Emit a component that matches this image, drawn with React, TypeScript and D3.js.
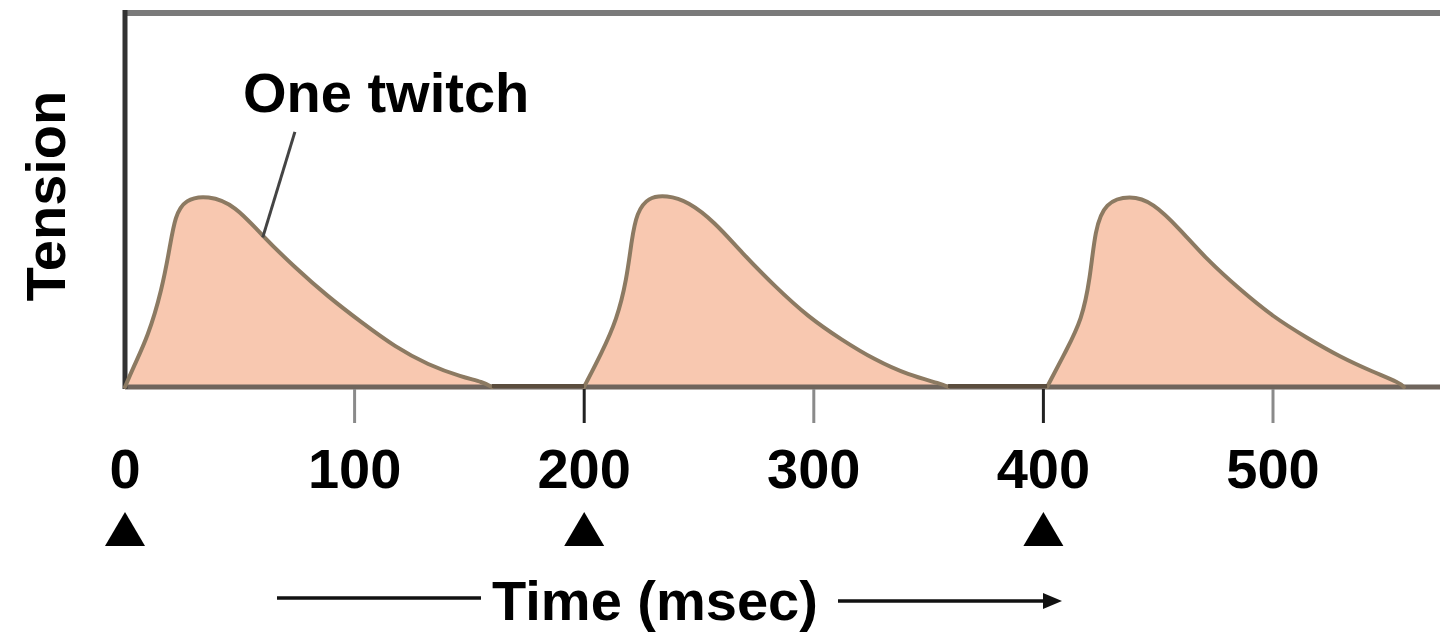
import React from "react";
import * as d3 from "d3";

// ---- data ----
const stimulusTimes = [0, 200, 400]; // ms, black triangles
const tickValues = [0, 100, 200, 300, 400, 500];

const twitch1T = [0, 3.5, 10.0, 16.1, 19.6, 21.8, 26.1, 36.1, 47.9, 59.7, 74.0, 88.4, 103.2, 117.6, 132.0, 146.8, 155.9, 159.8];
const twitch1V = [0, 0.1, 0.262, 0.508, 0.734, 0.89, 0.979, 1.0, 0.948, 0.79, 0.623, 0.471, 0.335, 0.209, 0.115, 0.052, 0.026, 0];

const twitch2T = [199.9, 207.6, 214.2, 218.5, 220.7, 222.9, 227.8, 235.9, 245.2, 256.9, 268.5, 283.1, 297.5, 312.1, 326.6, 341.0, 355.7, 358.5];
const twitch2V = [0, 0.178, 0.351, 0.56, 0.77, 0.91, 0.99, 1.0, 0.968, 0.859, 0.702, 0.524, 0.366, 0.246, 0.141, 0.063, 0.016, 0];

const twitch3T = [401.6, 410.1, 416.7, 420.3, 422.5, 426.8, 437.7, 447.7, 459.5, 471.1, 485.6, 500.0, 514.7, 529.2, 543.6, 555.3, 557.0];
const twitch3V = [0, 0.194, 0.351, 0.56, 0.822, 0.963, 1.0, 0.963, 0.822, 0.665, 0.508, 0.366, 0.257, 0.157, 0.079, 0.021, 0];

const annotationLabel = "One twitch";
const annotationPoint = { t: 60, v: 0.78 };
const annotationLineTop = { t: 74, v: 1.33 };
const annotationText = { t: 51.4, v: 1.434 };

const yTitle = "Tension";
const xTitle = "Time (msec)";

// ---- layout ----
const W = 1440;
const H = 632;
const FONT = "'Liberation Sans', Arial, sans-serif";

type P = { t: number; v: number };
const zip = (ts: number[], vs: number[]): P[] => ts.map((t, i) => ({ t, v: vs[i] }));

export default function App() {
  const x = d3.scaleLinear().domain([0, 500]).range([125, 1273]);
  const y = d3.scaleLinear().domain([0, 1.95]).range([387, 13]);

  const twitches = [zip(twitch1T, twitch1V), zip(twitch2T, twitch2V), zip(twitch3T, twitch3V)];

  const curve = d3.curveBasis;
  const area = d3
    .area<P>()
    .x((d) => x(d.t))
    .y0(y(0))
    .y1((d) => y(d.v))
    .curve(curve);
  const line = d3
    .line<P>()
    .x((d) => x(d.t))
    .y((d) => y(d.v))
    .curve(curve);

  const x0 = x(0);
  const yBase = y(0);
  const yTop = y(1.95);

  // flat baseline stretches between consecutive twitches
  const gaps = twitches.slice(0, -1).map((tw, i) => [tw[tw.length - 1].t, twitches[i + 1][0].t]);

  return (
    <svg
      width={W}
      height={H}
      viewBox={`0 0 ${W} ${H}`}
      style={{ position: "absolute", left: 0, top: 0, background: "#fff" }}
    >
      <rect x={0} y={0} width={W} height={H} fill="#fff" />

      {/* filled twitches */}
      {twitches.map((tw, i) => (
        <path key={i} d={area(tw) || ""} fill="#F8C8B0" stroke="none" />
      ))}

      {/* frame */}
      <line x1={x0} x2={W + 5} y1={yTop} y2={yTop} stroke="#7a7a7a" strokeWidth={6} />
      <line x1={x0} x2={W + 5} y1={yBase} y2={yBase} stroke="#6f655d" strokeWidth={5} />
      <line x1={x0} x2={x0} y1={yTop - 3} y2={yBase + 2} stroke="#333" strokeWidth={5} />

      {/* curve outlines */}
      {twitches.map((tw, i) => (
        <path
          key={i}
          d={line(tw) || ""}
          fill="none"
          stroke="#8C7A62"
          strokeWidth={4}
          strokeLinejoin="round"
          strokeLinecap="round"
        />
      ))}
      {gaps.map(([a, b], i) => (
        <line key={i} x1={x(a)} x2={x(b)} y1={yBase - 1} y2={yBase - 1} stroke="#5b4d3e" strokeWidth={4} />
      ))}

      {/* ticks */}
      {tickValues
        .filter((v) => v > 0)
        .map((v) => (
          <line
            key={v}
            x1={x(v)}
            x2={x(v)}
            y1={yBase + 2}
            y2={yBase + 36}
            stroke={stimulusTimes.includes(v) ? "#222" : "#8a8a8a"}
            strokeWidth={3}
          />
        ))}
      {tickValues.map((v) => (
        <text
          key={v}
          x={x(v)}
          y={488}
          textAnchor="middle"
          fontFamily={FONT}
          fontWeight="bold"
          fontSize={56}
          fill="#000"
        >
          {v}
        </text>
      ))}

      {/* stimulus triangles */}
      {stimulusTimes.map((t) => {
        const cx = x(t);
        return (
          <path
            key={t}
            d={`M${cx},512 L${cx - 20},546 L${cx + 20},546 Z`}
            fill="#000"
          />
        );
      })}

      {/* annotation */}
      <line
        x1={x(annotationPoint.t)}
        y1={y(annotationPoint.v)}
        x2={x(annotationLineTop.t)}
        y2={y(annotationLineTop.v)}
        stroke="#444"
        strokeWidth={3}
      />
      <text
        x={x(annotationText.t)}
        y={y(annotationText.v)}
        fontFamily={FONT}
        fontWeight="bold"
        fontSize={56}
        fill="#000"
      >
        {annotationLabel}
      </text>

      {/* y title */}
      <text
        transform={`translate(65,196) rotate(-90)`}
        textAnchor="middle"
        fontFamily={FONT}
        fontWeight="bold"
        fontSize={56}
        fill="#000"
      >
        {yTitle}
      </text>

      {/* x title with arrows */}
      <line x1={277} x2={481} y1={598} y2={598} stroke="#111" strokeWidth={3.5} />
      <text
        x={655}
        y={620}
        textAnchor="middle"
        fontFamily={FONT}
        fontWeight="bold"
        fontSize={56}
        fill="#000"
      >
        {xTitle}
      </text>
      <line x1={838} x2={1048} y1={601} y2={601} stroke="#111" strokeWidth={3.5} />
      <path d="M1062,601 L1043,593 L1043,609 Z" fill="#111" />
    </svg>
  );
}
